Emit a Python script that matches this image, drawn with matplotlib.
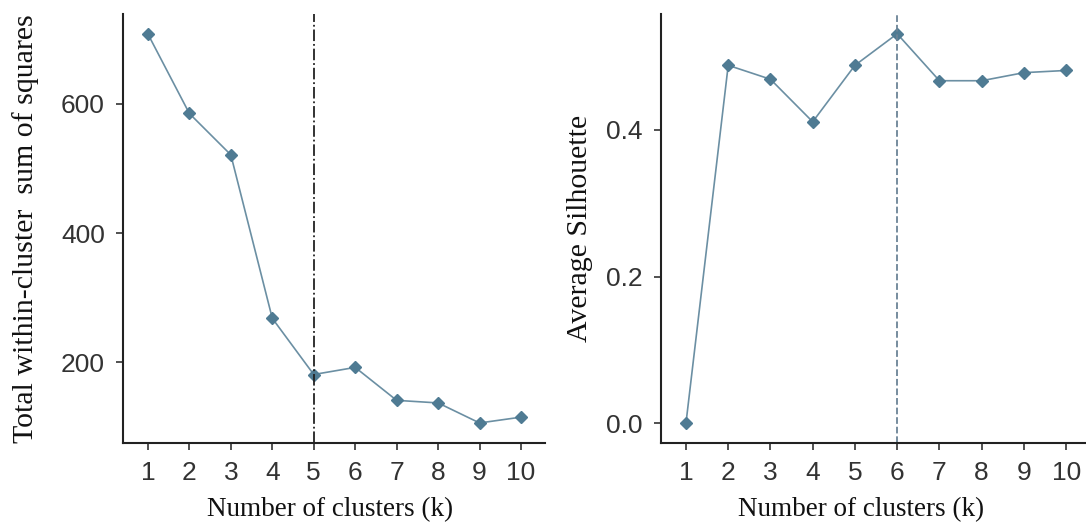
import matplotlib.pyplot as plt

k_values = [1, 2, 3, 4, 5, 6, 7, 8, 9, 10]
wss_values = [708, 585, 521, 268, 181, 192, 141, 137, 106, 115]
silhouette_values = [0.0, 0.488, 0.469, 0.411, 0.488, 0.531, 0.467, 0.467, 0.478, 0.481]
wss_ticks = [200, 400, 600]
sil_ticks = [0.0, 0.2, 0.4]
elbow_k = 5
best_k = 6

line_color = "#6b8fa3"
marker_color = "#4f7b93"
tick_font = "Liberation Sans"
label_font = "Liberation Serif"


def style_axes(ax):
    for side in ["top", "right"]:
        ax.spines[side].set_visible(False)
    for side in ["left", "bottom"]:
        ax.spines[side].set_linewidth(1.5)
        ax.spines[side].set_color("#222222")
    ax.tick_params(axis="both", direction="out", length=5, width=1.2,
                   color="#333333", labelsize=19, labelcolor="#333333")
    ax.tick_params(axis="x", pad=8)
    ax.tick_params(axis="y", pad=8)
    ax.set_xticks(k_values)
    ax.set_xticklabels([str(k) for k in k_values], fontfamily=tick_font)
    for lab in ax.get_yticklabels():
        lab.set_fontfamily(tick_font)


def draw_panel(ax, values, vline_k, vline_color, vline_style):
    ax.plot(k_values, values, color=line_color, linewidth=1.2,
            marker="D", markersize=6, markerfacecolor=marker_color,
            markeredgecolor=marker_color)
    ax.axvline(vline_k, color=vline_color, linestyle=vline_style, linewidth=1.3)


fig = plt.figure(figsize=(10.86, 5.24), dpi=100)

# left panel: elbow method
ax1 = fig.add_axes([0.1133, 0.1546, 0.3886, 0.8187])
draw_panel(ax1, wss_values, elbow_k, "#222222", "-.")
ax1.set_xlim(0.40, 10.58)
ax1.set_ylim(75, 739)
ax1.set_yticks(wss_ticks)
ax1.set_yticklabels([str(v) for v in wss_ticks])
style_axes(ax1)
ax1.set_xlabel("Number of clusters (k)", fontfamily=label_font, fontsize=19.5,
               color="#111111")
ax1.set_ylabel("Total within-cluster  sum of squares", fontfamily=label_font,
               fontsize=21.5, color="#111111")
ax1.xaxis.set_label_coords(0.49, -0.126)
ax1.yaxis.set_label_coords(-0.198, 0.5)

# right panel: silhouette method
ax2 = fig.add_axes([0.6087, 0.1546, 0.3913, 0.8187])
draw_panel(ax2, silhouette_values, best_k, "#6b8396", "--")
ax2.set_xlim(0.41, 10.47)
ax2.set_ylim(-0.027, 0.558)
ax2.set_yticks(sil_ticks)
ax2.set_yticklabels([f"{v:.1f}" for v in sil_ticks])
style_axes(ax2)
ax2.set_xlabel("Number of clusters (k)", fontfamily=label_font, fontsize=19.5,
               color="#111111")
ax2.set_ylabel("Average Silhouette", fontfamily=label_font, fontsize=21.5,
               color="#111111")
ax2.xaxis.set_label_coords(0.47, -0.126)
ax2.yaxis.set_label_coords(-0.159, 0.5)

fig.savefig("out.png", dpi=100)
